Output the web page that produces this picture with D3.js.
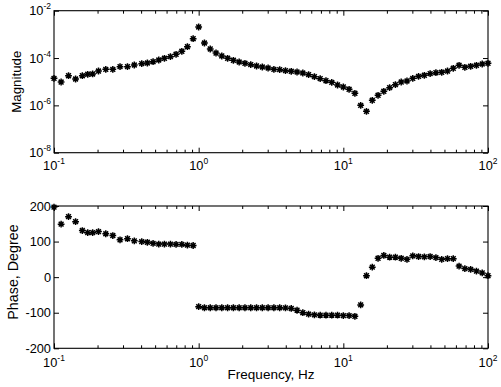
<!DOCTYPE html>
<html><head><meta charset="utf-8">
<script src="https://cdn.jsdelivr.net/npm/d3@7"></script>
<style>
html,body{margin:0;padding:0;background:#fff;}
svg{display:block;font-family:"Liberation Sans",Arial,Helvetica,sans-serif;}
</style></head><body>
<svg id="c" width="501" height="387"></svg>
<script>
// ---- data ----
const freqs = [0.1,0.112,0.126,0.141,0.157,0.171,0.185,0.203,0.228,0.255,0.286,0.322,0.359,0.404,0.442,0.484,0.530,0.580,0.638,0.698,0.765,0.836,0.916,1.0,
  1.096,1.202,1.318,1.445,1.585,1.738,1.905,2.089,2.291,2.512,2.754,3.020,3.311,3.631,3.981,4.365,4.786,5.248,5.754,6.310,6.918,7.586,8.318,9.120,10.0,
  10.96,12.02,13.18,14.45,15.85,17.38,19.05,20.89,22.91,25.12,27.54,30.20,33.11,36.31,39.81,43.65,47.86,52.48,57.54,63.10,69.18,75.86,83.18,91.20,100];
const magnitude = [1.39e-5,9.7e-6,1.79e-5,1.30e-5,1.79e-5,2.06e-5,2.12e-5,2.83e-5,3.34e-5,3.34e-5,4.31e-5,4.31e-5,5.08e-5,5.77e-5,6.17e-5,7.0e-5,8.26e-5,9.75e-5,1.14e-4,1.44e-4,1.93e-4,3.01e-4,6.56e-4,2.05e-3,
  4.32e-4,2.41e-4,1.63e-4,1.22e-4,9.75e-5,8.03e-5,6.8e-5,6.0e-5,5.24e-5,4.61e-5,4.18e-5,3.79e-5,3.34e-5,3.22e-5,2.92e-5,2.75e-5,2.57e-5,2.33e-5,1.98e-5,1.63e-5,1.34e-5,1.10e-5,9.4e-6,7.26e-6,5.98e-6,
  4.78e-6,3.24e-6,1.0e-6,5.6e-7,1.64e-6,2.67e-6,3.94e-6,5.58e-6,7.48e-6,9.7e-6,1.07e-5,1.39e-5,1.69e-5,1.87e-5,2.18e-5,2.40e-5,2.50e-5,2.83e-5,3.69e-5,4.93e-5,4.06e-5,4.48e-5,4.93e-5,5.6e-5,6.0e-5];
const phase = [197,149,170,156,131,125,125,128,122,117,105,108,102,100,98,95,93,93,93,92,92,90,89,-83,
  -86,-86,-86,-86,-86,-86,-86,-86,-86,-86,-86,-86,-86,-86,-86.5,-88,-93,-100,-104,-106,-107,-107,-107,-107,-108,
  -108,-110,-78,4,28,53,61,56,56,53,50,60,58,57,58,55,50,52,52,31,24,22,17,12,4];
const xTickExps = [-1,0,1,2];
const magTickExps = [-2,-4,-6,-8];
const phaseTicks = [200,100,0,-100,-200];
const xLabel = "Frequency, Hz";
const magLabel = "Magnitude";
const phaseLabel = "Phase, Degree";

// ---- drawing ----
const svg = d3.select("#c");
const x = d3.scaleLog().domain([0.1,100]).range([54,488]);
const yMag = d3.scaleLog().domain([1e-8,1e-2]).range([152.7,10.7]);
const yPh = d3.scaleLinear().domain([-200,200]).range([348.3,206]);

const minorX = x.ticks().filter(v => Math.abs(Math.log10(v) - Math.round(Math.log10(v))) > 1e-9);
const majorX = xTickExps.map(e => Math.pow(10,e));

const asterisk = {draw(ctx,size){const r=Math.sqrt(size)/2, d=r*Math.SQRT1_2;
  ctx.moveTo(-r,0);ctx.lineTo(r,0);ctx.moveTo(0,-r);ctx.lineTo(0,r);
  ctx.moveTo(-d,-d);ctx.lineTo(d,d);ctx.moveTo(-d,d);ctx.lineTo(d,-d);}};
const sym = d3.symbol(asterisk, 46);

function panel(y, yVals, yLabelFmt, yData, axisLabel, labelSize, labelCenter, xLabelOffset){
  const g = svg.append("g");
  const [y0,y1] = y.range();
  const [x0,x1] = x.range();
  // ticks (inward)
  const addAxis = (axis, tr) => {
    const a = g.append("g").attr("transform", tr).call(axis);
    a.select(".domain").remove();
    a.selectAll("line").attr("stroke","#000").attr("stroke-width",1);
  };
  addAxis(d3.axisBottom(x).tickValues(majorX).tickSize(-5).tickSizeOuter(0).tickFormat(""), `translate(0,${y0})`);
  addAxis(d3.axisBottom(x).tickValues(minorX).tickSize(-3).tickSizeOuter(0).tickFormat(""), `translate(0,${y0})`);
  addAxis(d3.axisTop(x).tickValues(majorX).tickSize(-5).tickSizeOuter(0).tickFormat(""), `translate(0,${y1})`);
  addAxis(d3.axisTop(x).tickValues(minorX).tickSize(-3).tickSizeOuter(0).tickFormat(""), `translate(0,${y1})`);
  addAxis(d3.axisLeft(y).tickValues(yVals).tickSize(-5).tickSizeOuter(0).tickFormat(""), `translate(${x0},0)`);
  addAxis(d3.axisRight(y).tickValues(yVals).tickSize(-5).tickSizeOuter(0).tickFormat(""), `translate(${x1},0)`);
  // frame
  g.append("rect").attr("x",x0).attr("y",y1).attr("width",x1-x0).attr("height",y0-y1)
    .attr("fill","none").attr("stroke","#000").attr("stroke-width",1.1);
  // x tick labels
  majorX.forEach((v,i) => {
    const t = g.append("text").attr("x", x(v)).attr("y", y0 + xLabelOffset)
      .attr("text-anchor","middle").attr("font-size",12.8).attr("fill","#000");
    t.append("tspan").text("10");
    t.append("tspan").attr("dy",-6).attr("font-size",8.5).text(String(xTickExps[i]));
  });
  // y tick labels
  yVals.forEach((v,i) => {
    const t = g.append("text").attr("x", 51).attr("y", y(v) + 4.5)
      .attr("text-anchor","end").attr("font-size",12.8).attr("fill","#000");
    yLabelFmt(t, v, i);
  });
  // y axis label
  g.append("text").attr("transform",`translate(${labelCenter[0]},${labelCenter[1]}) rotate(-90)`)
    .attr("text-anchor","middle").attr("font-size",labelSize).attr("fill","#000").text(axisLabel);
  // markers
  g.append("g").selectAll("path").data(freqs).join("path")
    .attr("transform",(d,i)=>`translate(${x(d)},${y(yData[i])})`)
    .attr("d", sym).attr("fill","none").attr("stroke","#000").attr("stroke-width",1.5);
}

panel(yMag, magTickExps.map(e=>Math.pow(10,e)), (t,v,i)=>{
    t.append("tspan").text("10");
    t.append("tspan").attr("dy",-6).attr("font-size",8.5).text(String(magTickExps[i]));
  }, magnitude, magLabel, 13.3, [21, 81.7], 16.8);

panel(yPh, phaseTicks, (t,v)=>{ t.text(String(v)); }, phase, phaseLabel, 14.3, [17.5, 272], 18.5);

svg.append("text").attr("x", (x.range()[0]+x.range()[1])/2).attr("y", 379)
  .attr("text-anchor","middle").attr("font-size",13.5).attr("fill","#000").text(xLabel);
</script>
</body></html>
